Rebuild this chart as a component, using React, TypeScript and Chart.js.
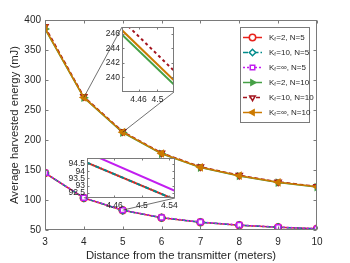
import React, { useEffect, useRef } from 'react';
import { Chart, registerables } from 'chart.js';
import { drawPoint } from 'chart.js/helpers';
Chart.register(...registerables);

// ---------------- data ----------------
const distances = [3, 4, 5, 6, 7, 8, 9, 10];
const kf2N5 = [145, 103.4, 82.8, 70.5, 63, 58, 54.5, 52];
const kf10N5 = [145, 103.4, 82.8, 70.5, 63, 58, 54.5, 52];
const kfInfN5 = [145.3, 103.8, 83.1, 70.8, 63.3, 58.3, 54.8, 52.3];
const kf2N10 = [385, 270.4, 212.4, 177, 154, 140, 129, 121.5];
const kf10N10 = [389, 272.3, 214, 178.5, 155.3, 141.2, 130.2, 122.6];
const kfInfN10 = [386, 271, 213, 177.5, 154.5, 140.5, 129.5, 122];

const xTicks = [3, 4, 5, 6, 7, 8, 9, 10];
const yTicks = [50, 100, 150, 200, 250, 300, 350, 400];

const legendK = ['2', '10', '\u221E', '2', '10', '\u221E'];
const legendN = ['5', '5', '5', '10', '10', '10'];

// upper inset (zoom around x in [4.42, 4.54], N = 10)
const upperInsetX = [4.42, 4.54];
const upperInsetKf2N10 = [246.2, 238.7];
const upperInsetKf10N10 = [248.2, 240.6];
const upperInsetKfInfN10 = [246.8, 239.3];
const upperInsetXTicks = [4.46, 4.5];
const upperInsetYTicks = [240, 242, 244, 246];

// lower inset (N = 5)
const lowerInsetX = [4.42, 4.55];
const lowerInsetKf2N5 = [94.6, 92.0];
const lowerInsetKf10N5 = [94.6, 92.0];
const lowerInsetKfInfN5 = [95.3, 92.6];
const lowerInsetXTicks = [4.46, 4.5, 4.54];
const lowerInsetYTicks = [92.5, 93, 93.5, 94, 94.5];

// ---------------- styles / layout ----------------
const FONT = '"Liberation Sans", Arial, Helvetica, sans-serif';
const TEXT = '#262626';
const FRAME = '#7a7a7a';

const C_RED = '#e8221c';
const C_TEAL = '#008b8b';
const C_PURPLE = '#c21ef0';
const C_GREEN = '#46a046';
const C_DRED = '#a3141e';
const C_ORANGE = '#cc7a00';

const seriesDefs = [
  { data: kf2N5, color: C_RED, style: 'circle', rot: 0, dash: [] as number[], bg: '#ffffff' },
  { data: kf10N5, color: C_TEAL, style: 'rectRot', rot: 0, dash: [5, 2, 1.5, 2], bg: '#ffffff' },
  { data: kfInfN5, color: C_PURPLE, style: 'rect', rot: 0, dash: [2, 2], bg: '#ffffff' },
  { data: kf2N10, color: C_GREEN, style: 'triangle', rot: 90, dash: [] as number[], bg: C_GREEN },
  { data: kf10N10, color: C_DRED, style: 'triangle', rot: 180, dash: [4, 2.5], bg: '#ffffff' },
  { data: kfInfN10, color: C_ORANGE, style: 'triangle', rot: 270, dash: [] as number[], bg: C_ORANGE },
];

const UPPER = { left: 122, top: 27, right: 174, bottom: 92 };
const LOWER = { left: 87, top: 158, right: 175, bottom: 198 };
const LEG = { left: 240.5, top: 27.5, right: 309.5, bottom: 122.5, first: 37.5, step: 15, l0: 243, l1: 262, tx: 269 };

// ---------------- plugins ----------------
const framePlugin = {
  id: 'frame',
  beforeDatasetsDraw(chart: any, _a: any, opts: any) {
    if (!opts.fill) return;
    const { ctx, chartArea: a } = chart;
    ctx.save();
    ctx.fillStyle = '#ffffff';
    ctx.fillRect(a.left, a.top, a.right - a.left, a.bottom - a.top);
    ctx.restore();
  },
  afterDatasetsDraw(chart: any, _a: any, opts: any) {
    const { ctx, chartArea: a, scales } = chart;
    const tl = opts.tickLen || 3;
    ctx.save();
    ctx.strokeStyle = opts.color || FRAME;
    ctx.lineWidth = opts.width || 1;
    const L = Math.round(a.left) + 0.5, R = Math.round(a.right) - 0.5;
    const T = Math.round(a.top) + 0.5, B = Math.round(a.bottom) - 0.5;
    ctx.strokeRect(L, T, R - L, B - T);
    ctx.beginPath();
    scales.x.ticks.forEach((t: any) => {
      const px = Math.round(scales.x.getPixelForValue(t.value)) + 0.5;
      ctx.moveTo(px, B); ctx.lineTo(px, B - tl);
      ctx.moveTo(px, T); ctx.lineTo(px, T + tl);
    });
    scales.y.ticks.forEach((t: any) => {
      const py = Math.round(scales.y.getPixelForValue(t.value)) + 0.5;
      ctx.moveTo(L, py); ctx.lineTo(L + tl, py);
      ctx.moveTo(R, py); ctx.lineTo(R - tl, py);
    });
    ctx.stroke();
    ctx.restore();
  },
};

const connectors = [
  { x: distances[1], y: kfInfN10[1], px: UPPER.left, py: UPPER.top },
  { x: distances[2], y: kfInfN10[2], px: UPPER.right, py: UPPER.bottom },
  { x: distances[1], y: kfInfN5[1], px: LOWER.left, py: LOWER.bottom },
  { x: distances[2], y: kfInfN5[2], px: LOWER.right, py: LOWER.bottom },
];

const connectorPlugin = {
  id: 'connectors',
  afterDatasetsDraw(chart: any) {
    const { ctx, scales } = chart;
    ctx.save();
    ctx.strokeStyle = '#333333';
    ctx.lineWidth = 0.7;
    ctx.beginPath();
    connectors.forEach((c) => {
      ctx.moveTo(scales.x.getPixelForValue(c.x), scales.y.getPixelForValue(c.y));
      ctx.lineTo(c.px, c.py);
    });
    ctx.stroke();
    ctx.restore();
  },
};

const legendPlugin = {
  id: 'customLegend',
  afterDraw(chart: any) {
    const { ctx } = chart;
    ctx.save();
    ctx.fillStyle = '#ffffff';
    ctx.fillRect(LEG.left, LEG.top, LEG.right - LEG.left, LEG.bottom - LEG.top);
    ctx.strokeStyle = FRAME;
    ctx.lineWidth = 1;
    ctx.strokeRect(LEG.left, LEG.top, LEG.right - LEG.left, LEG.bottom - LEG.top);
    seriesDefs.forEach((s, i) => {
      const y = LEG.first + i * LEG.step;
      ctx.setLineDash(s.dash);
      ctx.strokeStyle = s.color;
      ctx.lineWidth = 1.5;
      ctx.beginPath();
      ctx.moveTo(LEG.l0, y);
      ctx.lineTo(LEG.l1, y);
      ctx.stroke();
      ctx.setLineDash([]);
      ctx.fillStyle = s.bg;
      ctx.strokeStyle = s.color;
      ctx.lineWidth = 1.5;
      drawPoint(ctx, { pointStyle: s.style, rotation: s.rot, radius: 3.2, borderWidth: 1.5 } as any, (LEG.l0 + LEG.l1) / 2, y);
      ctx.fillStyle = TEXT;
      ctx.textBaseline = 'middle';
      ctx.textAlign = 'left';
      let x = LEG.tx;
      ctx.font = `8px ${FONT}`;
      ctx.fillText('K', x, y);
      x += ctx.measureText('K').width;
      ctx.font = `5.5px ${FONT}`;
      ctx.fillText('f', x, y + 2.2);
      x += ctx.measureText('f').width + 0.4;
      ctx.font = `8px ${FONT}`;
      ctx.fillText(`=${legendK[i]}, N=${legendN[i]}`, x, y);
    });
    ctx.restore();
  },
};

// ---------------- main chart ----------------
function MainChart() {
  const ref = useRef<HTMLCanvasElement>(null);
  useEffect(() => {
    if (!ref.current) return;
    const chart = new Chart(ref.current, {
      type: 'line',
      data: {
        datasets: seriesDefs.map((s, i) => ({
          label: `K=${legendK[i]}, N=${legendN[i]}`,
          data: distances.map((x, j) => ({ x, y: s.data[j] })),
          borderColor: s.color,
          backgroundColor: s.color,
          borderWidth: 1.5,
          borderDash: s.dash,
          pointStyle: s.style as any,
          pointRotation: s.rot,
          pointRadius: 3.5,
          pointBorderWidth: 1.5,
          pointBackgroundColor: s.bg,
          pointBorderColor: s.color,
          order: -i,
          tension: 0,
          fill: false,
        })),
      },
      options: {
        responsive: false,
        animation: false,
        layout: { padding: { top: 20, right: 33, left: 0, bottom: 0 } },
        plugins: {
          legend: { display: false },
          tooltip: { enabled: false },
          frame: { tickLen: 3, color: FRAME, fill: false },
        } as any,
        scales: {
          x: {
            type: 'linear',
            min: 3,
            max: 10,
            afterBuildTicks: (s: any) => { s.ticks = xTicks.map((v) => ({ value: v })); },
            afterFit: (s: any) => { s.height = 33; },
            grid: { display: false, drawTicks: false },
            border: { display: false },
            ticks: { padding: 6, autoSkip: false, color: TEXT, font: { size: 10, family: FONT } },
            title: { display: true, text: 'Distance from the transmitter (meters)', color: TEXT, font: { size: 11.3, family: FONT }, padding: { top: 0, bottom: 0 } },
          },
          y: {
            type: 'linear',
            min: 50,
            max: 400,
            afterBuildTicks: (s: any) => { s.ticks = yTicks.map((v) => ({ value: v })); },
            afterFit: (s: any) => { s.width = 45; },
            grid: { display: false, drawTicks: false },
            border: { display: false },
            ticks: { padding: 4, autoSkip: false, color: TEXT, font: { size: 10, family: FONT } },
            title: { display: true, text: 'Average harvested energy (mJ)', color: TEXT, font: { size: 11.3, family: FONT }, padding: { top: 8, bottom: 0 } },
          },
        },
      },
      plugins: [framePlugin, connectorPlugin, legendPlugin],
    });
    return () => chart.destroy();
  }, []);
  return <canvas ref={ref} width={350} height={263} style={{ position: 'absolute', left: 0, top: 0, width: 350, height: 263 }} />;
}

// ---------------- inset chart ----------------
type InsetSeries = { xs: number[]; ys: number[]; color: string; dash: number[] };
type InsetProps = {
  rect: { left: number; top: number; right: number; bottom: number };
  xMin: number; xMax: number; yMin: number; yMax: number;
  xt: number[]; yt: number[];
  series: InsetSeries[];
};

const PAD_L = 28, PAD_R = 6, PAD_T = 6, PAD_B = 16;

function InsetChart(p: InsetProps) {
  const ref = useRef<HTMLCanvasElement>(null);
  const w = p.rect.right - p.rect.left + PAD_L + PAD_R;
  const h = p.rect.bottom - p.rect.top + PAD_T + PAD_B;
  useEffect(() => {
    if (!ref.current) return;
    const chart = new Chart(ref.current, {
      type: 'line',
      data: {
        datasets: p.series.map((s, i) => ({
          data: s.xs.map((x, j) => ({ x, y: s.ys[j] })),
          borderColor: s.color,
          borderWidth: 2,
          borderDash: s.dash,
          pointRadius: 0,
          order: -i,
          tension: 0,
          fill: false,
        })),
      },
      options: {
        responsive: false,
        animation: false,
        layout: { padding: { top: PAD_T, right: PAD_R, left: 0, bottom: 0 } },
        plugins: {
          legend: { display: false },
          tooltip: { enabled: false },
          frame: { tickLen: 2, color: FRAME, fill: true, width: 1 },
        } as any,
        scales: {
          x: {
            type: 'linear', min: p.xMin, max: p.xMax,
            afterBuildTicks: (s: any) => { s.ticks = p.xt.map((v) => ({ value: v })); },
            afterFit: (s: any) => { s.height = PAD_B; },
            grid: { display: false, drawTicks: false },
            border: { display: false },
            ticks: { padding: 3, autoSkip: false, maxRotation: 0, color: TEXT, font: { size: 8.5, family: FONT }, callback: (v: any) => String(Number(v)) },
          },
          y: {
            type: 'linear', min: p.yMin, max: p.yMax,
            afterBuildTicks: (s: any) => { s.ticks = p.yt.map((v) => ({ value: v })); },
            afterFit: (s: any) => { s.width = PAD_L; },
            grid: { display: false, drawTicks: false },
            border: { display: false },
            ticks: { padding: 2, autoSkip: false, color: TEXT, font: { size: 8.5, family: FONT, lineHeight: 1 }, callback: (v: any) => String(Number(v)) },
          },
        },
      },
      plugins: [framePlugin],
    });
    return () => chart.destroy();
  }, []);
  return (
    <canvas
      ref={ref}
      width={w}
      height={h}
      style={{ position: 'absolute', left: p.rect.left - PAD_L, top: p.rect.top - PAD_T, width: w, height: h }}
    />
  );
}

export default function App() {
  return (
    <div style={{ position: 'fixed', left: 0, top: 0, width: 350, height: 263, background: '#ffffff', overflow: 'hidden' }}>
      <MainChart />
      <InsetChart
        rect={UPPER}
        xMin={4.425} xMax={4.535} yMin={238} yMax={246.9}
        xt={upperInsetXTicks} yt={upperInsetYTicks}
        series={[
          { xs: upperInsetX, ys: upperInsetKf2N10, color: C_GREEN, dash: [] },
          { xs: upperInsetX, ys: upperInsetKf10N10, color: C_DRED, dash: [3, 3] },
          { xs: upperInsetX, ys: upperInsetKfInfN10, color: C_ORANGE, dash: [] },
        ]}
      />
      <InsetChart
        rect={LOWER}
        xMin={4.42} xMax={4.548} yMin={92.15} yMax={94.9}
        xt={lowerInsetXTicks} yt={lowerInsetYTicks}
        series={[
          { xs: lowerInsetX, ys: lowerInsetKf2N5, color: C_RED, dash: [] },
          { xs: lowerInsetX, ys: lowerInsetKf10N5, color: C_TEAL, dash: [4, 2, 1, 2] },
          { xs: lowerInsetX, ys: lowerInsetKfInfN5, color: C_PURPLE, dash: [] },
        ]}
      />
    </div>
  );
}
